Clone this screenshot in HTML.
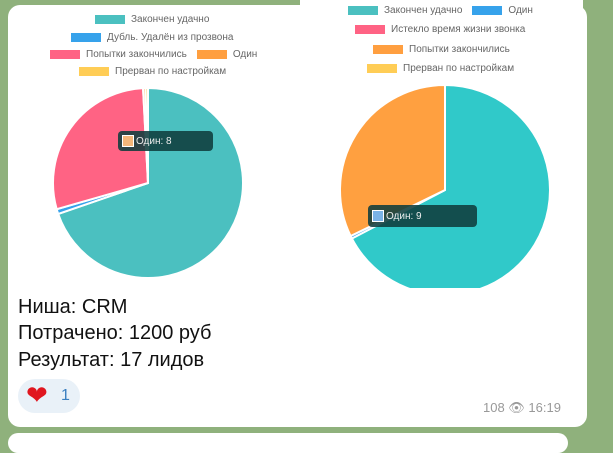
<!DOCTYPE html>
<html><head><meta charset="utf-8"><style>
body{margin:0;width:613px;height:436px;overflow:hidden;background:#8fb17c;font-family:"Liberation Sans",sans-serif;position:relative}
.card{position:absolute;left:8px;top:5px;width:579px;height:422px;background:#fff;border-radius:12px}
.card2{position:absolute;left:8px;top:433px;width:560px;height:20px;background:#fff;border-radius:12px}
.topwhite{position:absolute;left:300px;top:0;width:283px;height:20px;background:#fff}
.txt{position:absolute;left:18px;font-size:20px;color:#111}
.lg{position:absolute;font-size:10px;color:#666;white-space:nowrap;display:flex;align-items:center}
.lg i{display:inline-block;width:30px;height:9px;margin-right:6px}
.tip{position:absolute;background:rgba(15,60,60,.88);color:#eee;font-size:10px;border-radius:4px;display:flex;align-items:center;padding-left:4px}
.tip b{display:inline-block;width:10px;height:10px;border:1px solid #fff;margin-right:2px}
</style></head><body>
<div class="card"></div>
<div class="card2"></div>
<div class="topwhite"></div>
<svg id="chart" width="613" height="436" style="position:absolute;left:0;top:0">
<defs><clipPath id="cr"><rect x="300" y="0" width="300" height="288"/></clipPath></defs>
<g id="p1"></g>
<g id="p2" clip-path="url(#cr)"></g>
</svg>
<div class="lg" style="left:95px;top:14px"><i style="background:#4bc0c0"></i>Закончен удачно</div>
<div class="lg" style="left:71px;top:32px"><i style="background:#36a2eb"></i>Дубль. Удалён из прозвона</div>
<div class="lg" style="left:50px;top:49px"><i style="background:#ff6384"></i>Попытки закончились<i style="background:#ff9f40;margin-left:10px"></i>Один</div>
<div class="lg" style="left:79px;top:66px"><i style="background:#ffcd56"></i>Прерван по настройкам</div>
<div class="lg" style="left:348px;top:5px"><i style="background:#4bc0c0"></i>Закончен удачно<i style="background:#36a2eb;margin-left:10px"></i>Один</div>
<div class="lg" style="left:355px;top:24px"><i style="background:#ff6384"></i>Истекло время жизни звонка</div>
<div class="lg" style="left:373px;top:44px"><i style="background:#ff9f40"></i>Попытки закончились</div>
<div class="lg" style="left:367px;top:63px"><i style="background:#ffcd56"></i>Прерван по настройкам</div>
<div class="tip" style="left:118px;top:131px;width:91px;height:20px"><b style="background:#f4b57a"></b>Один: 8</div>
<div class="tip" style="left:368px;top:205px;width:105px;height:22px"><b style="background:#7ab3e6"></b>Один: 9</div>
<div class="txt" style="top:296px">Ниша: CRM</div>
<div class="txt" style="top:322px">Потрачено: 1200 руб</div>
<div class="txt" style="top:349px">Результат: 17 лидов</div>
<div style="position:absolute;left:18px;top:379px;width:62px;height:34px;border-radius:17px;background:#e9f1f8">
<span style="position:absolute;left:8px;top:1px;font-size:26px;color:#e0161f">❤</span><span style="position:absolute;left:43px;top:8px;font-size:16px;color:#3a7fc0">1</span></div>
<div style="position:absolute;left:483px;top:400px;font-size:13px;color:#999">108 👁 16:19</div>
<script>
const labels1=["Закончен удачно","Дубль. Удалён из прозвона","Попытки закончились","Один","Прерван по настройкам"];
const values1=[1340,16,550,8,8];
const colors1=["#4bc0c0","#36a2eb","#ff6384","#ff9f40","#ffcd56"];
const labels2=["Закончен удачно","Один","Попытки закончились"];
const values2=[1455,9,696];
const colors2=["#30c9c9","#36a2eb","#ffa040"];
function pie(g,vals,cols,cx,cy,r){
  const tot=vals.reduce((a,b)=>a+b,0);let a=-Math.PI/2;
  vals.forEach((v,i)=>{
    const b=a+v/tot*2*Math.PI;
    const x1=cx+r*Math.cos(a),y1=cy+r*Math.sin(a),x2=cx+r*Math.cos(b),y2=cy+r*Math.sin(b);
    const p=document.createElementNS("http://www.w3.org/2000/svg","path");
    p.setAttribute("d",`M${cx},${cy}L${x1},${y1}A${r},${r} 0 ${b-a>Math.PI?1:0} 1 ${x2},${y2}Z`);
    p.setAttribute("fill",cols[i]);p.setAttribute("stroke","#fff");p.setAttribute("stroke-width","2");
    
    
    g.appendChild(p);a=b;});
}
pie(document.getElementById("p1"),values1,colors1,148,183,95);
pie(document.getElementById("p2"),values2,colors2,445,190,105);
</script>
</body></html>
